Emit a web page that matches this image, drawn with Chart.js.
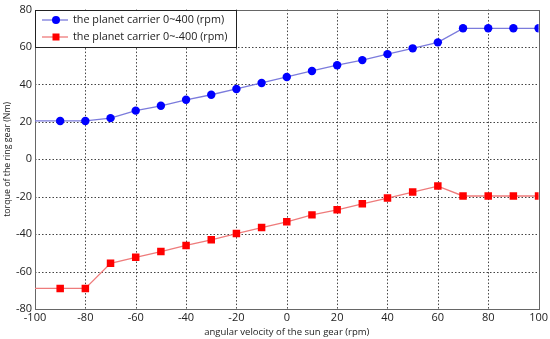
<!DOCTYPE html>
<html><head><meta charset="utf-8">
<script src="https://cdn.jsdelivr.net/npm/chart.js@4/dist/chart.umd.min.js"></script>
<style>html,body{margin:0;padding:0;background:#fff}#wrap{width:550px;height:339px}</style>
</head><body><div id="wrap"><canvas id="c" width="550" height="339"></canvas></div>
<script>
const sunSpeed = [-100,-90,-80,-70,-60,-50,-40,-30,-20,-10,0,10,20,30,40,50,60,70,80,90,100];
const torquePos = [20.5,20.5,20.5,22,26,28.6,31.8,34.5,37.6,40.8,44,47.2,50.3,53,56.2,59.3,62.5,70,70,70,70];
const torqueNeg = [-69,-69,-69,-55.6,-52.4,-49.3,-46,-43,-39.7,-36.5,-33.4,-29.7,-27,-23.8,-20.7,-17.5,-14.3,-19.6,-19.6,-19.6,-19.6];
const seriesLabels = ['the planet carrier 0~400 (rpm)','the planet carrier 0~-400 (rpm)'];
const xTicks = [-100,-80,-60,-40,-20,0,20,40,60,80,100];
const yTicks = [-80,-60,-40,-20,0,20,40,60,80];
const FONT = 'Open Sans';

const pr = sunSpeed.map((v,i)=> i===0 ? 0 : 1);
const ds = [
  {label: seriesLabels[0], data: sunSpeed.map((x,i)=>({x, y: torquePos[i]})),
   borderColor:'#7b7bdc', borderWidth:1.3, pointStyle:'circle',
   pointRadius: pr.map(v=>v*4.2), pointBackgroundColor:'#0000ff', pointBorderColor:'#0000ff', pointBorderWidth:0},
  {label: seriesLabels[1], data: sunSpeed.map((x,i)=>({x, y: torqueNeg[i]})),
   borderColor:'#ee7b7b', borderWidth:1.3, pointStyle:'rect',
   pointRadius: pr.map(v=>v*5.3), pointBackgroundColor:'#ff0000', pointBorderColor:'#ff0000', pointBorderWidth:0}
];

const legendPlugin = {
  id:'boxLegend',
  afterDatasetsDraw(chart){
    const ctx = chart.ctx, a = chart.chartArea;
    const x0 = Math.round(a.left), y0 = Math.round(a.top), w = 202, h = 38;
    ctx.save();
    ctx.fillStyle = '#fff';
    ctx.fillRect(x0, y0, w, h);
    ctx.strokeStyle = '#222'; ctx.lineWidth = 1;
    ctx.strokeRect(x0+0.5, y0+0.5, w-1, h-1);
    chart.data.datasets.forEach((d,i)=>{
      const yy = y0 + 10 + i*17;
      ctx.strokeStyle = d.borderColor; ctx.lineWidth = 1.3;
      ctx.beginPath(); ctx.moveTo(x0+7, yy); ctx.lineTo(x0+33, yy); ctx.stroke();
      ctx.fillStyle = d.pointBackgroundColor;
      if (d.pointStyle === 'circle') { ctx.beginPath(); ctx.arc(x0+21, yy, 4, 0, Math.PI*2); ctx.fill(); }
      else { ctx.fillRect(x0+21-3.5, yy-3.5, 7, 7); }
      ctx.fillStyle = '#222'; ctx.font = '10.8px "'+FONT+'"'; ctx.textBaseline='middle'; ctx.textAlign='left';
      ctx.fillText(d.label, x0+38, yy);
    });
    ctx.restore();
  }
};

new Chart(document.getElementById('c'), {
  type:'line',
  data:{datasets: ds},
  options:{
    responsive:false, animation:false, devicePixelRatio:1,
    layout:{padding:{top:7,right:11,left:0,bottom:0}},
    plugins:{legend:{display:false}, tooltip:{enabled:false}},
    scales:{
      x:{type:'linear', min:-100, max:100,
         afterBuildTicks(s){ s.ticks = xTicks.map(v=>({value:v})); },
         afterFit(s){ s.height = 30; },
         grid:{display:false, drawTicks:false},
         border:{display:false},
         ticks:{color:'#222', font:{family:FONT, size:11}, padding:2, maxRotation:0},
         title:{display:true, text:'angular velocity of the sun gear (rpm)', color:'#222', font:{family:FONT, size:9.5}, padding:{top:0,bottom:1}}
      },
      y:{type:'linear', min:-80, max:80,
         afterBuildTicks(s){ s.ticks = yTicks.map(v=>({value:v})); },
         afterFit(s){ s.width = 35; },
         grid:{display:false, drawTicks:false},
         border:{display:false},
         ticks:{color:'#222', font:{family:FONT, size:11}, padding:3},
         title:{display:true, text:'torque of the ring gear (Nm)', color:'#222', font:{family:FONT, size:8.8}, padding:{top:2,bottom:0}}
      }
    }
  },
  plugins:[legendPlugin, {
    id:'frame',
    beforeDatasetsDraw(chart){
      const ctx = chart.ctx, a = chart.chartArea;
      ctx.save();
      ctx.strokeStyle = '#444'; ctx.lineWidth = 1; ctx.setLineDash([1.5,2]);
      const xs = chart.scales.x, ys = chart.scales.y;
      xTicks.forEach(v=>{ const p = Math.round(xs.getPixelForValue(v))+0.5; if (v>-100 && v<100){ctx.beginPath(); ctx.moveTo(p,a.top); ctx.lineTo(p,a.bottom); ctx.stroke();}});
      yTicks.forEach(v=>{ const p = Math.round(ys.getPixelForValue(v))+0.5; if (v>-80 && v<80){ctx.beginPath(); ctx.moveTo(a.left,p); ctx.lineTo(a.right,p); ctx.stroke();}});
      ctx.setLineDash([]);
      ctx.strokeStyle = '#666';
      ctx.strokeRect(Math.round(a.left)+0.5, Math.round(a.top)+0.5, Math.round(a.right-a.left), Math.round(a.bottom-a.top));
      ctx.restore();
    }
  }]
});
</script></body></html>
